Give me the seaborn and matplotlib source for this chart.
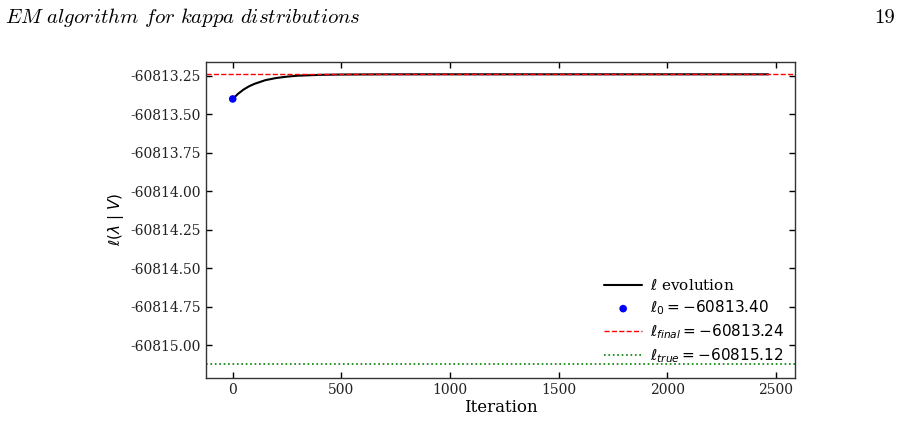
import matplotlib
matplotlib.use("Agg")
import matplotlib.pyplot as plt
import matplotlib.ticker as mticker
import seaborn as sns
import pandas as pd

# Data
iterations = [0, 25, 50, 75, 100, 150, 200, 250, 300, 400, 500, 700, 1000, 1500, 2000, 2465]
loglik = [-60813.400, -60813.366, -60813.339, -60813.318, -60813.302, -60813.278,
          -60813.264, -60813.255, -60813.249, -60813.2435, -60813.2414, -60813.2402,
          -60813.2400, -60813.2400, -60813.2400, -60813.2400]
l0 = -60813.40
l_final = -60813.24
l_true = -60815.12
yticks = [-60813.25, -60813.50, -60813.75, -60814.00, -60814.25, -60814.50, -60814.75, -60815.00]
xticks = [0, 500, 1000, 1500, 2000, 2500]

sns.set_theme(style="ticks")
plt.rcParams["font.family"] = ["DejaVu Serif"]
plt.rcParams["mathtext.fontset"] = "dejavusans"
plt.rcParams["axes.unicode_minus"] = False
plt.rcParams["text.color"] = "black"
plt.rcParams["axes.labelcolor"] = "black"

fig = plt.figure(figsize=(9, 4.23), dpi=100)
ax = fig.add_axes([206 / 900, 1 - 377.7 / 423, (795 - 206) / 900, (377.7 - 61.7) / 423])

df = pd.DataFrame({"Iteration": iterations, "ll": loglik})
sns.lineplot(data=df, x="Iteration", y="ll", ax=ax, color="black", lw=1.5,
             label=r"$\ell$ evolution")
sns.scatterplot(x=[iterations[0]], y=[l0], ax=ax, color="blue", s=30, edgecolor="none",
                label=r"$\ell_0 = -60813.40$", zorder=4)
ax.axhline(l_final, color="red", ls="--", lw=1.0, label=r"$\ell_{final} = -60813.24$")
ax.axhline(l_true, color="green", ls=":", lw=1.2, label=r"$\ell_{true} = -60815.12$")

ax.set_xlim(-123, 2588)
ax.set_ylim(-60815.212, -60813.158)
ax.set_xticks(xticks)
ax.set_yticks(yticks)
ax.yaxis.set_major_formatter(mticker.FormatStrFormatter("%.2f"))
ax.tick_params(direction="in", top=True, right=True, labelsize=10, length=4, width=1,
               colors="black", labelcolor="#222222")
for s in ax.spines.values():
    s.set_color("#333333")
    s.set_linewidth(1.0)

ax.set_xlabel("Iteration", fontsize=12, labelpad=2)
ax.set_ylabel(r"$\ell(\lambda\ |\ V)$", fontsize=11, labelpad=3)

leg = ax.legend(loc="lower right", frameon=False, fontsize=11, handlelength=2.5,
                borderaxespad=0.3, labelspacing=0.35, handletextpad=0.5,
                bbox_to_anchor=(1.0, 0.005))

fig.text(5 / 900, 1 - 23 / 423, r"$\mathit{EM\ algorithm\ for\ kappa\ distributions}$",
         fontsize=15, math_fontfamily="cm", ha="left", va="baseline", color="black")
fig.text(895 / 900, 1 - 23 / 423, "19", fontsize=15, family="cmr10", ha="right",
         va="baseline", color="black")

fig.savefig("out.png", dpi=100)
